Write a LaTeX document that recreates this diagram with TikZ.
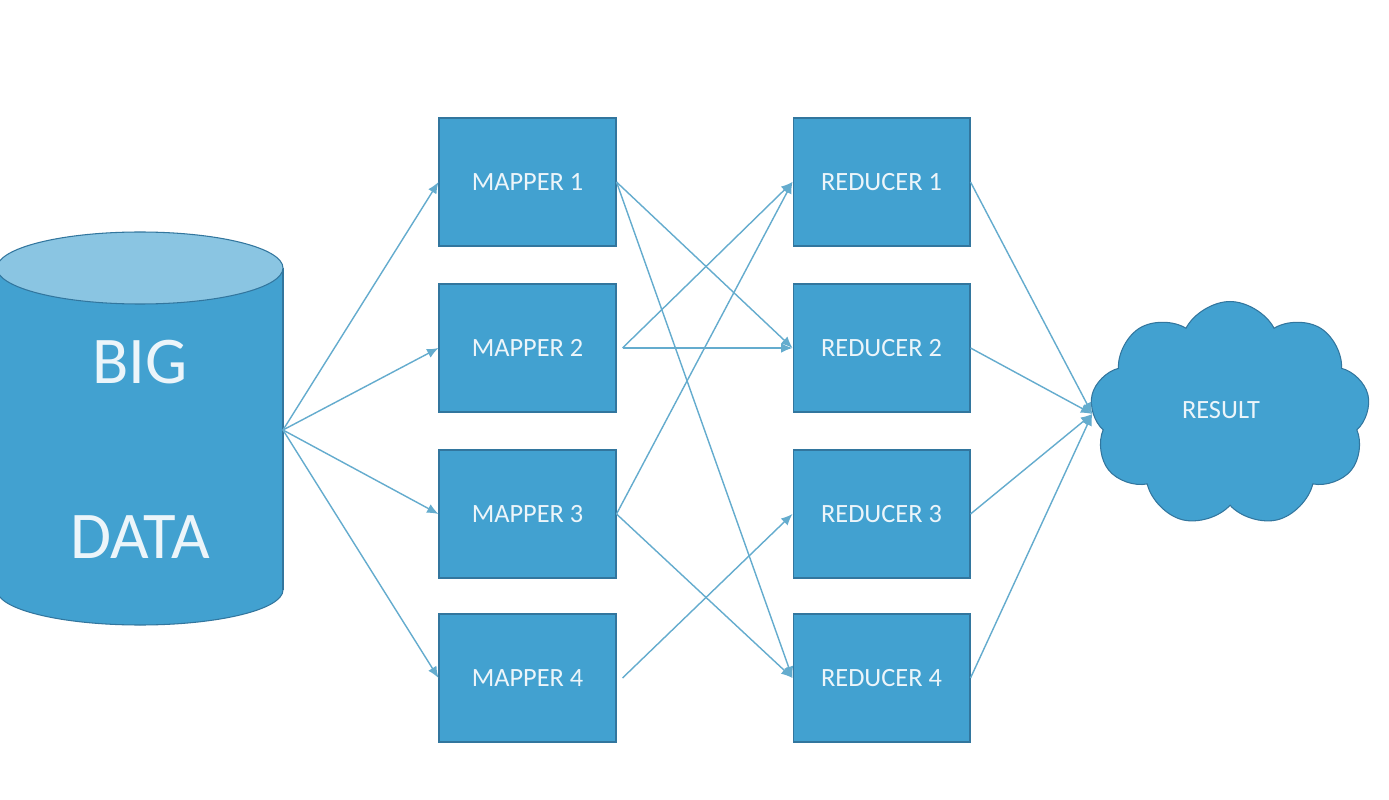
\documentclass[tikz,border=0pt]{standalone}
\usepackage{fontspec}
\setmainfont{Carlito}
\usetikzlibrary{arrows.meta,shapes.symbols}
\definecolor{boxfill}{RGB}{66,161,208}
\definecolor{boxline}{RGB}{50,118,158}
\definecolor{topfill}{RGB}{138,197,226}
\definecolor{arrowc}{RGB}{100,172,206}
\definecolor{txt}{RGB}{236,245,250}
\begin{document}
\begin{tikzpicture}[x=0.02cm,y=-0.02cm,
  box/.style={draw=boxline, line width=0.6pt, fill=boxfill, minimum width=3.54cm,
    minimum height=2.56cm, text=txt, font=\fontsize{15}{17}\selectfont, inner sep=0pt},
  bigtxt/.style={text=txt, font=\fontsize{38}{40}\selectfont, inner sep=0pt},
  conn/.style={draw=arrowc, line width=0.8pt, -{Latex[length=6.5pt,width=5.5pt]}}]
\useasboundingbox (0,0) rectangle (1389,800);
\fill[white] (0,0) rectangle (1389,800);
% cylinder
\begin{scope}
  \clip (0,0) rectangle (1389,800);
  \filldraw[fill=boxfill, draw=boxline, line width=0.6pt] (140,590) ellipse[x radius=143, y radius=35];
  \fill[boxfill] (-3,268) rectangle (283,590);
  \draw[boxline, line width=0.6pt] (-3,268) -- (-3,590) (283,268) -- (283,590);
  \filldraw[fill=topfill, draw=boxline, line width=0.6pt] (140,268) ellipse[x radius=143, y radius=36];
\end{scope}
\node[bigtxt] (big) at (140,362) {BIG};
\node[bigtxt] (data) at (140,537) {DATA};
\coordinate (bd) at (283,430);
% mappers
\node[box] (m1) at (527.5,182) {MAPPER 1};
\node[box] (m2) at (527.5,348) {MAPPER 2};
\node[box] (m3) at (527.5,514) {MAPPER 3};
\node[box] (m4) at (527.5,678) {MAPPER 4};
% reducers
\node[box] (r1) at (881.5,182) {REDUCER 1};
\node[box] (r2) at (881.5,348) {REDUCER 2};
\node[box] (r3) at (881.5,514) {REDUCER 3};
\node[box] (r4) at (881.5,678) {REDUCER 4};
% result cloud
\node[cloud, cloud puffs=9, cloud puff arc=125, cloud ignores aspect, draw=boxline, line width=0.6pt, fill=boxfill,
  minimum width=5.6cm, minimum height=4.5cm, text=txt, font=\fontsize{15}{17}\selectfont, inner sep=0pt]
  (result) at (1230,414) {};
\node[text=txt, font=\fontsize{15}{17}\selectfont, inner sep=0pt] (restxt) at (1221,410) {RESULT};
% connectors
\foreach \m in {m1,m2,m3,m4} \draw[conn] (bd) -- (\m.west);
\coordinate (m2s) at ([xshift=0.12cm]m2.east);
\coordinate (m4s) at ([xshift=0.12cm]m4.east);
\draw[conn] (m1.east) -- (r2.west);
\draw[conn] (m1.east) -- (r4.west);
\draw[conn] (m2s) -- (r1.west);
\draw[conn] (m2s) -- (r2.west);
\draw[conn] (m3.east) -- (r1.west);
\draw[conn] (m3.east) -- (r4.west);
\draw[conn] (m4s) -- (r3.west);
\foreach \r in {r1,r2,r3,r4} \draw[conn] (\r.east) -- (result.west);
\end{tikzpicture}
\end{document}
